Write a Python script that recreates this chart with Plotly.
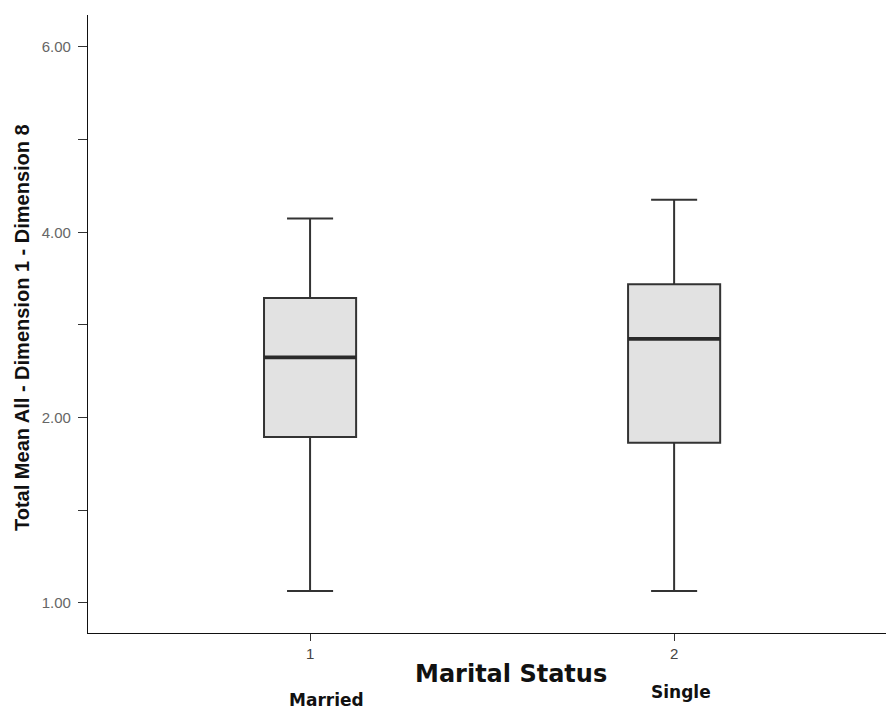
import plotly.graph_objects as go

# Box-plot summary statistics per marital status group (axis units)
groups = ["Married", "Single"]
group_codes = [1, 2]
upper_whisker = [5.15, 5.35]
q3 = [4.29, 4.44]
median = [3.65, 3.85]
q1 = [2.79, 2.73]
lower_whisker = [1.13, 1.13]

# Y axis ticks and their printed labels
y_tickvals = [1, 2, 3, 4, 5, 6, 7]
y_ticktext = ["1.00", "", "2.00", "", "4.00", "", "6.00"]

box_width = 0.253
font_family = "Liberation Sans, Arial, sans-serif"

fig = go.Figure()

fig.add_trace(go.Box(
    x=group_codes,
    q1=q1,
    median=median,
    q3=q3,
    lowerfence=lower_whisker,
    upperfence=upper_whisker,
    width=box_width,
    whiskerwidth=0.5,
    fillcolor="#e2e2e2",
    line=dict(color="#333333", width=2),
    boxpoints=False,
    showlegend=False,
    hoverinfo="skip",
))

# Heavier median bars drawn on top of each box
for code, med in zip(group_codes, median):
    fig.add_trace(go.Scatter(
        x=[code - box_width / 2, code + box_width / 2],
        y=[med, med],
        mode="lines",
        line=dict(color="#2a2a2a", width=3.6),
        showlegend=False,
        hoverinfo="skip",
    ))

fig.update_layout(
    width=886,
    height=710,
    margin=dict(l=88, r=0, t=15, b=77),
    paper_bgcolor="white",
    plot_bgcolor="white",
    font=dict(family=font_family, color="#222"),
    xaxis=dict(
        range=[0.39, 2.582],
        tickvals=group_codes,
        ticktext=[str(c) for c in group_codes],
        ticks="outside",
        ticklen=7,
        tickcolor="#333",
        tickfont=dict(size=15, color="#444"),
        showline=True,
        linecolor="#111",
        linewidth=1.3,
        showgrid=False,
        zeroline=False,
    ),
    yaxis=dict(
        range=[0.676, 7.345],
        tickvals=y_tickvals,
        ticktext=y_ticktext,
        ticks="outside",
        ticklen=9,
        tickcolor="#333",
        tickfont=dict(size=15, color="#666"),
        ticklabelstandoff=4,
        showline=True,
        linecolor="#111",
        linewidth=1.3,
        showgrid=False,
        zeroline=False,
    ),
)

# Axis titles and group names
fig.add_annotation(
    text="<b>Total Mean All - Dimension 1 - Dimension 8</b>",
    xref="paper", yref="paper", x=0, y=0.5,
    xshift=-66, yshift=-4, textangle=-90, showarrow=False,
    font=dict(size=20, color="#111", family=font_family),
    xanchor="center", yanchor="middle",
)
fig.add_annotation(
    text="<b>Marital Status</b>",
    xref="paper", yref="paper", x=(511 - 88) / 798, y=0,
    yshift=-41, showarrow=False,
    font=dict(size=24, color="#111", family="DejaVu Sans, sans-serif"),
    xanchor="center", yanchor="middle",
)
label_x = [326, 681]
label_y = [-67, -59]
for name, lx, ly in zip(groups, label_x, label_y):
    fig.add_annotation(
        text="<b>" + name + "</b>",
        xref="paper", yref="paper", x=(lx - 88) / 798, y=0,
        yshift=ly, showarrow=False,
        font=dict(size=17, color="#111", family="DejaVu Sans, sans-serif"),
        xanchor="center", yanchor="middle",
    )

fig.write_html("out.html")
